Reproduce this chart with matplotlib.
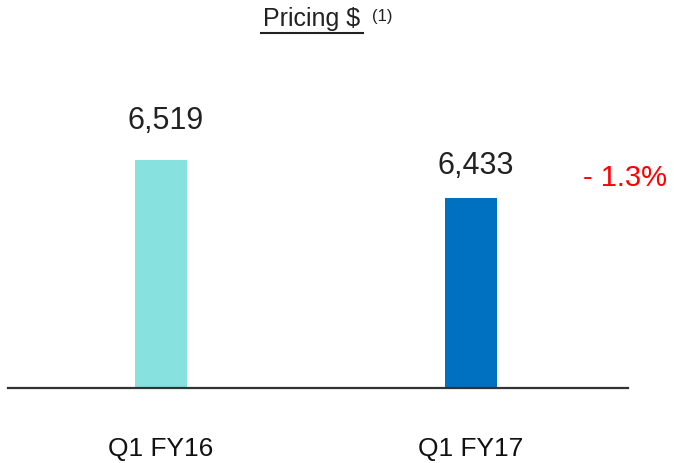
import matplotlib
matplotlib.use("Agg")
import matplotlib.pyplot as plt

periods = ["Q1 FY16", "Q1 FY17"]
pricing = [6519, 6433]
bar_colors = ["#86E1DF", "#0070C0"]
change_label = "- 1.3%"

# vertical gap (points) between bar top and its value label
label_gaps = [17.5, 12.5]

narrow = ["Liberation Sans Narrow", "Liberation Sans", "DejaVu Sans"]
plain = ["Liberation Sans", "DejaVu Sans"]

fig = plt.figure(figsize=(6.74, 4.63), dpi=100)
ax = fig.add_axes([8 / 674, 75 / 463, 620 / 674, 328 / 463])

x = range(len(periods))
ax.bar(x, pricing, width=0.168, color=bar_colors)
ax.set_xlim(-0.4935, 1.506)
ax.set_ylim(6003, 6745)

for xi, v, gap in zip(x, pricing, label_gaps):
    ax.annotate(f"{v:,}", (xi, v), xytext=(3, gap), textcoords="offset points",
                ha="center", va="bottom", fontsize=22, color="#222222",
                family=plain)

ax.text(1.496, 6433 + 45, change_label, ha="center", va="center",
        fontsize=21, color="#FF0000", family=plain)

for s in ["top", "right", "left"]:
    ax.spines[s].set_visible(False)
ax.spines["bottom"].set_color("#333333")
ax.spines["bottom"].set_linewidth(1.6)
ax.set_yticks([])
ax.set_xticks(list(x))
ax.set_xticklabels(periods, fontsize=19, family=narrow, color="#111111")
ax.tick_params(axis="x", length=0, pad=35)

fig.text(312 / 674, 1 - 19 / 463, "Pricing $", ha="center", va="center",
         fontsize=18, family=narrow, color="#222222")
fig.add_artist(plt.Line2D([261 / 674, 363 / 674], [1 - 33 / 463, 1 - 33 / 463],
                          color="#222222", linewidth=1.5))
fig.text(382 / 674, 1 - 16 / 463, "(1)", ha="center", va="center",
         fontsize=12, family=plain, color="#222222")

fig.savefig("out.png", dpi=100)
